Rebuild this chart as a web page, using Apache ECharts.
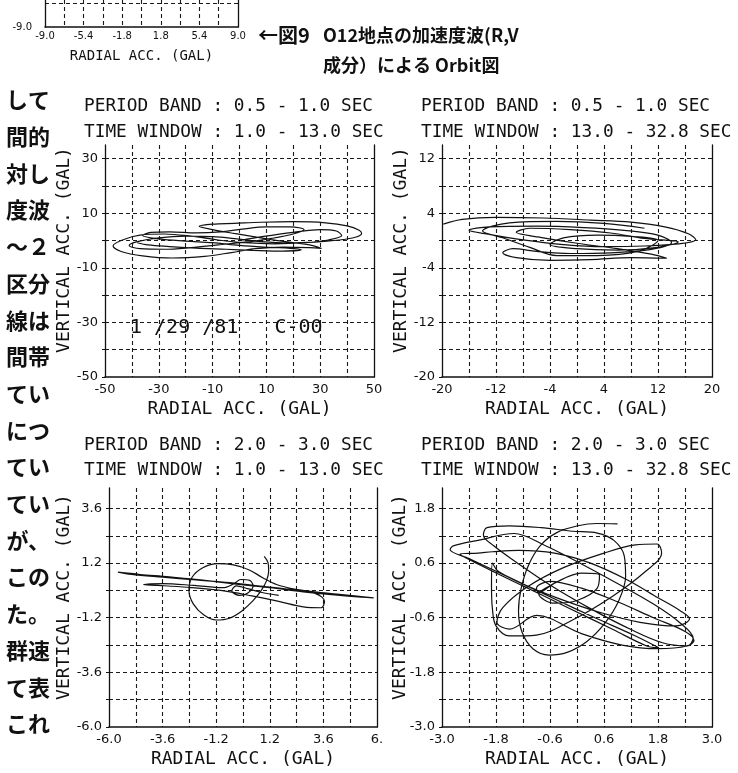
<!DOCTYPE html>
<html>
<head>
<meta charset="UTF-8">
<script src="https://cdn.jsdelivr.net/npm/echarts@6/dist/echarts.min.js"></script>
</head>
<body style="margin:0;background:#ffffff;">
<div id="main" style="width:738px;height:773px;"></div>
<script type="text/javascript">

// tick labels (every second grid line carries a label)
var xTicksTop = ['-9.0', '-5.4', '-1.8', '1.8', '5.4', '9.0'];
var yTicksTop = ['-9.0'];
var xTicksA = ['-50', '-30', '-10', '10', '30', '50'];
var yTicksA = ['-50', '-30', '-10', '10', '30'];
var xTicksA2 = ['-20', '-12', '-4', '4', '12', '20'];
var yTicksA2 = ['-20', '-12', '-4', '4', '12'];
var xTicksB1 = ['-6.0', '-3.6', '-1.2', '1.2', '3.6', '6.'];
var yTicksB1 = ['-6.0', '-3.6', '-1.2', '1.2', '3.6'];
var xTicksB2 = ['-3.0', '-1.8', '-0.6', '0.6', '1.8', '3.0'];
var yTicksB2 = ['-3.0', '-1.8', '-0.6', '0.6', '1.8'];

var bandA = 'PERIOD BAND : 0.5 - 1.0 SEC';
var bandB = 'PERIOD BAND : 2.0 - 3.0 SEC';
var windowEarly = 'TIME WINDOW : 1.0 - 13.0 SEC';
var windowLate = 'TIME WINDOW : 13.0 - 32.8 SEC';
var xName = 'RADIAL ACC. (GAL)';
var yName = 'VERTICAL ACC. (GAL)';
var stamp = '1 /29 /81   C-00';
var caption1 = 'O12地点の加速度波(R,V';
var caption2 = '成分）による Orbit図';
var textColumn = ['して', '間的', '対し', '度波', '～２', '区分', '線は', '間帯', 'てい',
                  'につ', 'てい', 'てい', 'が、', 'この', 'た。', '群速', 'て表', 'これ'];

// orbits: [radial, vertical]
var orbitA = [
  [0,0],[9,1.5],[20,3],[30,4],[36,3.5],[38,1.8],[33,0.2],[24,-0.8],[13,-1.2],[2,-0.8],
  [-8,0.2],[-18,1.6],[-28,2.4],[-37,2],[-43,0.4],[-47,-2],[-44,-4],[-36,-5.6],[-25,-6.4],[-13,-5.8],
  [-3,-4.4],[6,-3],[16,-2.4],[26,-2.6],[30.5,-2.9],[26,-1.6],[17,-0.4],[8,1],[-2,2.6],[-10,4],
  [-15,5.2],[-10,6],[-2,6.3],[8,6.7],[20,6.9],[32,6.5],[40,5.4],[44.5,3.8],[45.4,2.6],[43,1.2],
  [37,0.2],[28,-0.6],[18,-0.9],[8,-0.4],[-1,0.6],[-10,1.4],[-20,1.6],[-30,1],[-38,-0.4],[-41,-1.8],
  [-37,-3],[-28,-3.2],[-18,-2.6],[-8,-1.6],[2,-0.6],[12,0.8],[20,2.4],[24,4],[19,5],[10,5],
  [1,4.2],[-7,3.2],[-16,2.8],[-26,3.2],[-33,3],[-36,1.8],[-30,0.6],[-20,-0.2],[-10,-0.8],[0,-1.8],
  [9,-2.4],[18,-2.8],[23,-3.4],[16,-3.9],[5,-3.6],[-5,-3.2],[-16,-2.8],[-26,-2.2],[-34,-1.6],[-38,-0.8]
];
var orbitA2 = [
  [-19.8,2.4],[-17,3.1],[-12,3.4],[-5,3.3],[2,3.0],[8,2.7],[13,2.0],[16.5,1.0],[17.6,0.1],[15,-0.5],
  [10,-0.8],[4,-0.9],[-2,-0.6],[-8,0.1],[-13,0.9],[-16,1.5],[-13,2.0],[-6,2.1],[1,1.9],[7,1.5],
  [12,0.8],[14,-0.3],[11,-1.3],[5,-1.8],[-1,-1.9],[-6,-1.6],[-9.5,-1.2],[-11,-1.8],[-9,-2.5],[-4,-2.9],
  [2,-2.8],[8,-2.5],[13.3,-2.6],[11,-2.0],[6,-1.2],[0,-0.4],[-5,0.4],[-9,1.2],[-7,1.8],[-1,1.6],
  [5,1.1],[10,0.3],[15,-0.2],[12,-1.0],[6,-1.4],[0,-1.2],[-4,-0.6],[-2,0.4],[3,0.8],[8,0.6],
  [12,0],[9,-1.6],[3,-2.2],[-3,-2.2],[-7,-1.0],[-11,0.4],[-14,1.4],[-10,2.6],[-3,2.8],[4,2.5],[10,1.8]
];
var orbitB1 = [
  [0.95,1.5],[1.12,1.22],[1.15,0.85],[1.05,0.42],[0.82,0.0],[0.45,-0.45],[-0.05,-0.9],[-0.6,-1.22],[-1.2,-1.3],[-1.75,-1.08],
  [-2.22,-0.6],[-2.42,0.0],[-2.28,0.58],[-1.8,1.0],[-1.12,1.18],[-0.42,1.12],[0.28,0.9],[0.88,0.56],[1.5,0.26],[2.3,0.06],
  [3.2,-0.06],[4.2,-0.16],[5.1,-0.25],[5.85,-0.33],[5.3,-0.3],[4.1,-0.2],[2.7,-0.06],[1.2,0.12],[-0.3,0.28],[-1.8,0.45],
  [-3.3,0.6],[-4.6,0.7],[-5.6,0.8],[-5.0,0.7],[-3.6,0.58],[-2.1,0.46],[-0.6,0.34],[0.9,0.18],[2.3,0.02],[3.3,-0.16],
  [3.65,-0.48],[3.5,-0.76],[2.7,-0.72],[1.6,-0.48],[0.4,-0.24],[-1.0,0.0],[-2.5,0.14],[-3.8,0.22],[-4.45,0.25],[-3.6,0.3],
  [-2.2,0.22],[-0.9,0.12],[-0.4,0.3],[-0.1,0.48],[0.3,0.44],[0.45,0.2],[0.2,-0.12],[-0.15,-0.22],[-0.5,-0.02],[-0.3,0.2],
  [0.2,0.08],[0.8,-0.08],[1.6,-0.22]
];
var orbitB2 = [
  [0.9,1.46],[0.45,1.47],[0.02,1.42],[-0.45,1.27],[-0.82,0.98],[-1.08,0.55],[-1.24,0.05],[-1.3,-0.45],[-1.22,-0.92],[-0.98,-1.28],
  [-0.62,-1.42],[-0.22,-1.36],[0.22,-1.12],[0.62,-0.72],[0.93,-0.22],[1.08,0.3],[1.05,0.76],[0.82,1.1],[0.45,1.26],[-0.1,1.3],
  [-0.8,1.38],[-1.5,1.42],[-2.0,1.38],[-2.08,1.22],[-1.85,0.98],[-1.35,0.62],[-0.6,0.12],[0.3,-0.4],[1.2,-0.86],[1.9,-1.15],
  [2.45,-1.22],[2.58,-1.05],[2.3,-0.72],[1.7,-0.3],[0.9,0.15],[0.1,0.58],[-0.7,0.98],[-1.4,1.25],[-2.2,1.1],[-2.75,0.98],
  [-2.82,0.9],[-2.4,0.7],[-1.6,0.33],[-0.6,-0.14],[0.4,-0.6],[1.3,-1.0],[1.82,-1.26],[1.55,-1.22],[0.8,-0.86],[-0.2,-0.38],
  [-1.2,0.1],[-2.0,0.48],[-2.6,0.8],[-2.2,0.82],[-1.88,0.85],[-1.3,0.88],[-0.5,0.82],[0.3,0.6],[1.1,0.24],[1.8,-0.16],
  [2.3,-0.45],[2.5,-0.62],[2.2,-0.78],[1.4,-0.7],[0.5,-0.48],[-0.4,-0.18],[-1.2,0.14],[-1.75,0.42],[-1.88,0.6],[-1.9,0.1],
  [-1.88,-0.4],[-1.8,-0.78],[-1.5,-1.0],[-0.9,-0.98],[-0.1,-0.65],[0.8,-0.12],[1.5,0.4],[1.88,0.82],[1.78,1.02],[1.3,1.0],
  [0.6,0.82],[-0.3,0.5],[-1.1,0.08],[-1.65,-0.38],[-1.78,-0.7],[-1.5,-0.85],[-0.9,-0.55],[0.1,-0.95],[1.0,-1.2],[1.8,-1.28],
  [2.45,-1.22],[2.6,-1.1],[2.4,-0.9],[1.7,-0.6],[0.9,-0.25],[0.1,0.05],[-0.6,0.2],[-0.9,0.05],[-0.85,-0.05],[-0.5,0.16],
  [0.1,0.38],[0.5,0.34],[0.45,0.05],[0.0,-0.22],[-0.5,-0.28],[-0.85,-0.08],[-0.6,0.1]
];

var MONO = "'DejaVu Sans Mono', monospace";
var SANS = "'DejaVu Sans', sans-serif";
var JP = "'Noto Sans CJK JP', sans-serif";
var INK = '#111';

// the top strip is only the bottom edge of the previous figure
var panels = [
  {l: 45, t: 0, w: 193, h: 27, xmin: -9, xmax: 9, xs: 1.8, ymin: -9, ymax: -6.98, ys: 1.8,
   xl: xTicksTop, yl: yTicksTop, data: [], small: true},
  {l: 105, t: 145, w: 269, h: 232, xmin: -50, xmax: 50, xs: 10, ymin: -50, ymax: 35, ys: 10,
   xl: xTicksA, yl: yTicksA, data: orbitA, nx: 64, ny: 250},
  {l: 442, t: 145, w: 270, h: 232, xmin: -20, xmax: 20, xs: 4, ymin: -20, ymax: 14, ys: 4,
   xl: xTicksA2, yl: yTicksA2, data: orbitA2, nx: 401, ny: 250},
  {l: 109, t: 488, w: 268, h: 239, xmin: -6, xmax: 6, xs: 1.2, ymin: -6, ymax: 4.5, ys: 1.2,
   xl: xTicksB1, yl: yTicksB1, data: orbitB1, nx: 64, ny: 597},
  {l: 442, t: 488, w: 270, h: 239, xmin: -3, xmax: 3, xs: 0.6, ymin: -3, ymax: 2.25, ys: 0.6,
   xl: xTicksB2, yl: yTicksB2, data: orbitB2, nx: 400, ny: 597}
];

function pick(labels, min, step) {
  return function (v) {
    var k = Math.round((v - min) / step);
    if (Math.abs(v - min - k * step) > step * 0.001) return '';
    if (k % 2) return '';
    return labels[k / 2] || '';
  };
}

var grids = [], xAxes = [], yAxes = [], series = [];
var dash = {type: [4, 3], color: '#1a1a1a', width: 1.1};

panels.forEach(function (p, i) {
  var fs = p.small ? 10 : 13;
  grids.push({left: p.l, top: p.t, width: p.w, height: p.h, containLabel: false});
  xAxes.push({
    gridIndex: i, type: 'value', min: p.xmin, max: p.xmax, interval: p.xs,
    name: xName, nameLocation: 'middle', nameGap: p.small ? 22 : 23,
    nameTextStyle: {fontFamily: MONO, fontSize: p.small ? 14 : 18, color: INK},
    axisLine: {show: true, onZero: false, lineStyle: {color: INK, width: 1.5}},
    axisTick: {show: false},
    axisLabel: {show: true, margin: p.small ? 4 : 6, fontFamily: SANS, fontSize: fs, color: INK,
                formatter: pick(p.xl, p.xmin, p.xs)},
    splitLine: {show: true, showMinLine: false, showMaxLine: false, lineStyle: dash}
  });
  yAxes.push({
    gridIndex: i, type: 'value', min: p.ymin, max: p.ymax, interval: p.ys, position: 'left',
    axisLine: {show: true, onZero: false, lineStyle: {color: INK, width: 1.3}},
    axisTick: {show: !p.small, length: 3, lineStyle: {color: INK}},
    axisLabel: {show: true, margin: p.small ? 13 : 7, fontFamily: SANS, fontSize: fs, color: INK,
                showMaxLabel: false, formatter: pick(p.yl, p.ymin, p.ys)},
    splitLine: {show: true, showMinLine: false, showMaxLine: false, lineStyle: dash}
  });
  yAxes.push({
    gridIndex: i, type: 'value', min: p.ymin, max: p.ymax, position: 'right',
    axisLine: {show: true, onZero: false, lineStyle: {color: INK, width: 1.3}},
    axisTick: {show: false}, axisLabel: {show: false}, splitLine: {show: false}
  });
  series.push({
    type: 'line', xAxisIndex: i, yAxisIndex: 2 * i, data: p.data,
    showSymbol: false, smooth: 0.35, clip: true,
    lineStyle: {color: INK, width: 1.2}
  });
});

var graphics = [];
function txt(x, y, s, font, align, rot) {
  graphics.push({type: 'text', x: x, y: y, rotation: rot || 0,
    style: {text: s, font: font, fill: INK, align: align || 'left', verticalAlign: 'middle'}});
}
var titleFont = '17.8px ' + MONO;
txt(84, 106, bandA, titleFont);
txt(421, 106, bandA, titleFont);
txt(84, 132, windowEarly, titleFont);
txt(421, 132, windowLate, titleFont);
txt(84, 445, bandB, titleFont);
txt(421, 445, bandB, titleFont);
txt(84, 470, windowEarly, titleFont);
txt(421, 470, windowLate, titleFont);
// rotated y-axis names, a little above the middle of each plot as in the scan
panels.forEach(function (p) {
  if (p.small) return;
  txt(p.nx, p.ny, yName, '18px ' + MONO, 'center', Math.PI / 2);
});
txt(130, 328, stamp, '20px ' + MONO);
txt(258, 35, '←図9', 'bold 20px ' + JP);
txt(323, 35, caption1, 'bold 18px ' + JP);
txt(323, 65, caption2, 'bold 18px ' + JP);
textColumn.forEach(function (s, i) {
  txt(50, 100 + i * 36.7, s, 'bold 22px ' + JP, 'right');
});

var chart = echarts.init(document.getElementById('main'));
chart.setOption({
  backgroundColor: '#ffffff',
  animation: false,
  grid: grids,
  xAxis: xAxes,
  yAxis: yAxes,
  series: series,
  graphic: graphics
});
</script>
</body>
</html>
